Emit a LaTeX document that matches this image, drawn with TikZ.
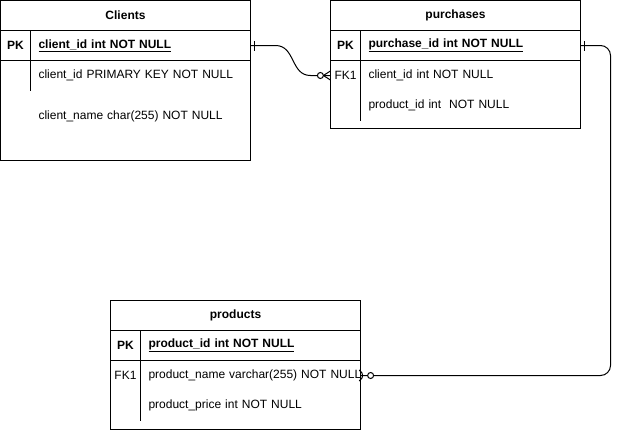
\documentclass[tikz,border=0pt]{standalone}
\usepackage{fontspec}
\setmainfont{Liberation Sans}
\usetikzlibrary{decorations.markings}
\tikzset{
	tbl/.style={draw, anchor=north west, minimum width=250pt, outer sep=0pt},
	bold/.style={font=\fontsize{12}{14}\selectfont\bfseries},
	head/.style={draw, anchor=north west, minimum width=250pt, minimum height=30pt, outer sep=0pt, bold},
	key/.style={anchor=north west, minimum width=30pt, minimum height=30pt, inner sep=0pt, outer sep=0pt},
	field/.style={anchor=north west, minimum height=30pt, text width=220pt, inner sep=0pt, outer sep=0pt, align=left,
		execute at begin node={\hspace*{8pt}\hbox\bgroup}, execute at end node=\egroup},
	one/.style={postaction={decorate,decoration={markings,mark=at position 4pt with {\draw (0,-5pt) -- (0,5pt);}}}},
	many/.style={postaction={decorate,decoration={markings,mark=at position -0.1pt with {\draw (0,-4.5pt) -- (-7pt,0) -- (0,4.5pt); \draw[fill=white] (-10pt,0) circle (3pt);}}}}
}
\begin{document}
\begin{tikzpicture}[x=1pt, y=-1pt, line width=1pt, font=\fontsize{12}{14}\selectfont]
	\useasboundingbox (0,0) rectangle (620,431);
	% Clients
	\node[tbl, minimum height=160pt] (cl) at (0.5,0.5) {};
	\node[head] (cl-h) at (0.5,0.5) {Clients};
	\node[key, bold] (cl-k0) at (0.5,30.5) {PK};
	\node[field, bold] (cl-f0) at (30.5,30.5) {\underline{client\_id int NOT NULL}};
	\node[key] (cl-k1) at (0.5,60.5) {};
	\node[field] (cl-f1) at (30.5,60.5) {client\_id PRIMARY KEY NOT NULL};
	\node[field] (cl-f2) at (30.5,101) {client\_name char(255) NOT NULL};
	\draw (cl-k0.south west) -- (cl-f0.south east);
	\draw (cl-k0.north east) -- (cl-k1.south east);
	% purchases
	\node[tbl, minimum height=128pt] (pu) at (330.5,0.5) {};
	\node[head] (pu-h) at (330.5,0.5) {purchases};
	\node[key, bold] (pu-k0) at (330.5,30.5) {PK};
	\node[field, bold] (pu-f0) at (360.5,30.5) {\underline{purchase\_id int NOT NULL}};
	\node[key] (pu-k1) at (330.5,60.5) {FK1};
	\node[field] (pu-f1) at (360.5,60.5) {client\_id int NOT NULL};
	\node[key] (pu-k2) at (330.5,90.5) {};
	\node[field] (pu-f2) at (360.5,90.5) {product\_id int\ \ NOT NULL};
	\draw (pu-k0.south west) -- (pu-f0.south east);
	\draw (pu-k0.north east) -- (pu-k2.south east);
	% products
	\node[tbl, minimum height=129pt] (pr) at (110.5,300.5) {};
	\node[head] (pr-h) at (110.5,300.5) {products};
	\node[key, bold] (pr-k0) at (110.5,330.5) {PK};
	\node[field, bold] (pr-f0) at (140.5,330.5) {\underline{product\_id int NOT NULL}};
	\node[key] (pr-k1) at (110.5,360.5) {FK1};
	\node[field] (pr-f1) at (140.5,360.5) {product\_name varchar(255) NOT NULL};
	\node[key] (pr-k2) at (110.5,390.5) {};
	\node[field] (pr-f2) at (140.5,390.5) {product\_price int NOT NULL};
	\draw (pr-k0.south west) -- (pr-f0.south east);
	\draw (pr-k0.north east) -- (pr-k2.south east);
	% relations
	\draw[one, many] (cl-f0.east) -- ++(25,0) .. controls +(20,0) and +(-20,0) .. ([xshift=-20pt]pu-k1.west) -- (pu-k1.west);
	\draw[one, many, rounded corners=10pt] (pu-f0.east) -- ++(30,0) |- (pr-f1.east);
\end{tikzpicture}
\end{document}
